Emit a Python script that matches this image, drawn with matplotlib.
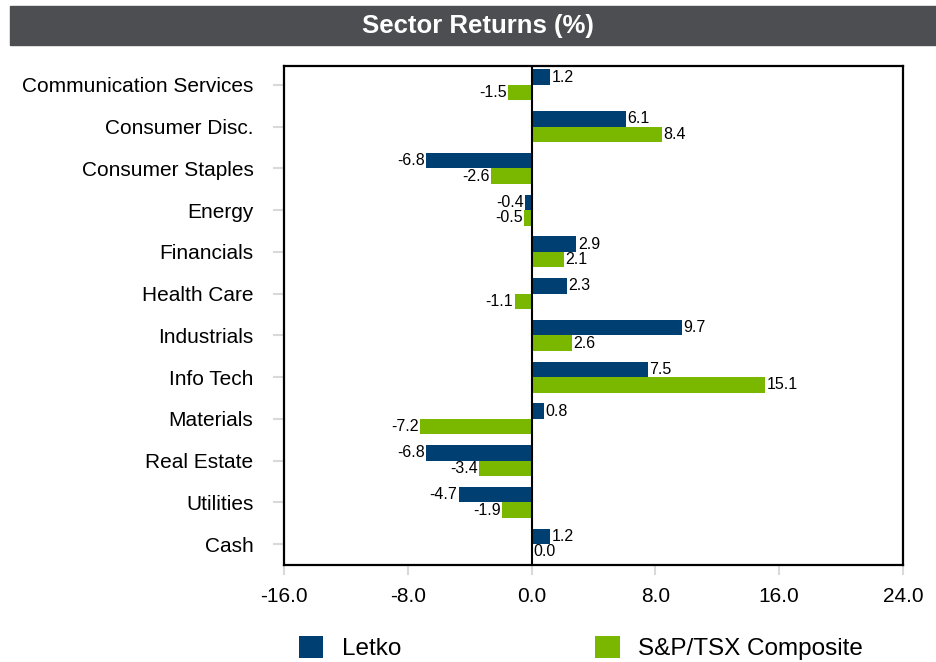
import numpy as np
import matplotlib.pyplot as plt
from matplotlib.patches import Rectangle

plt.rcParams['font.family'] = ['Liberation Sans', 'DejaVu Sans']

sectors = ['Communication Services', 'Consumer Disc.', 'Consumer Staples', 'Energy',
           'Financials', 'Health Care', 'Industrials', 'Info Tech', 'Materials',
           'Real Estate', 'Utilities', 'Cash']
letko = [1.2, 6.1, -6.8, -0.4, 2.9, 2.3, 9.7, 7.5, 0.8, -6.8, -4.7, 1.2]
tsx = [-1.5, 8.4, -2.6, -0.5, 2.1, -1.1, 2.6, 15.1, -7.2, -3.4, -1.9, 0.03]
xticks = [-16, -8, 0, 8, 16, 24]

navy = '#003f72'
green = '#7ab800'

fig = plt.figure(figsize=(9.36, 6.62), dpi=100)

# title band
fig.patches.append(Rectangle((10 / 936, 1 - 45 / 662), 926 / 936, 39 / 662,
                             transform=fig.transFigure, color='#4d4e52', zorder=0))
fig.text(478 / 936, 1 - 26 / 662, 'Sector Returns (%)', color='white', fontsize=18.5,
         fontweight='bold', ha='center', va='center')

ax = fig.add_axes([284 / 936, 1 - 565 / 662, 619 / 936, 499 / 662])
y = np.arange(len(sectors))
h = 0.37
b1 = ax.barh(y - h / 2, letko, height=h, color=navy, label='Letko')
b2 = ax.barh(y + h / 2, tsx, height=h, color=green, label='S&P/TSX Composite')
ax.bar_label(b1, fmt='%.1f', padding=1, fontsize=11.5)
ax.bar_label(b2, fmt='%.1f', padding=1, fontsize=11.5)

ax.axvline(0, color='black', lw=1.5)
ax.set_xlim(-16, 24)
ax.set_ylim(len(sectors) - 0.5, -0.45)
ax.set_yticks(y)
ax.set_yticklabels(sectors, fontsize=15)
ax.set_xticks(xticks)
ax.set_xticklabels([f'{v:.1f}' for v in xticks], fontsize=15)
ax.tick_params(axis='y', length=8, width=1.5, color='#d9d9d9', pad=14)
ax.tick_params(axis='x', length=7, width=1.5, color='#d9d9d9', pad=9)
for s in ax.spines.values():
    s.set_linewidth(1.6)
    s.set_color('black')

fig.legend(handles=[b1, b2], loc='center left', bbox_to_anchor=(299 / 936, 1 - 648 / 662),
           ncol=2, frameon=False, fontsize=17.5, handlelength=1.0, handleheight=1.0,
           handletextpad=0.75, columnspacing=8.0, borderpad=0, borderaxespad=0)

fig.savefig('out.png', dpi=100)
